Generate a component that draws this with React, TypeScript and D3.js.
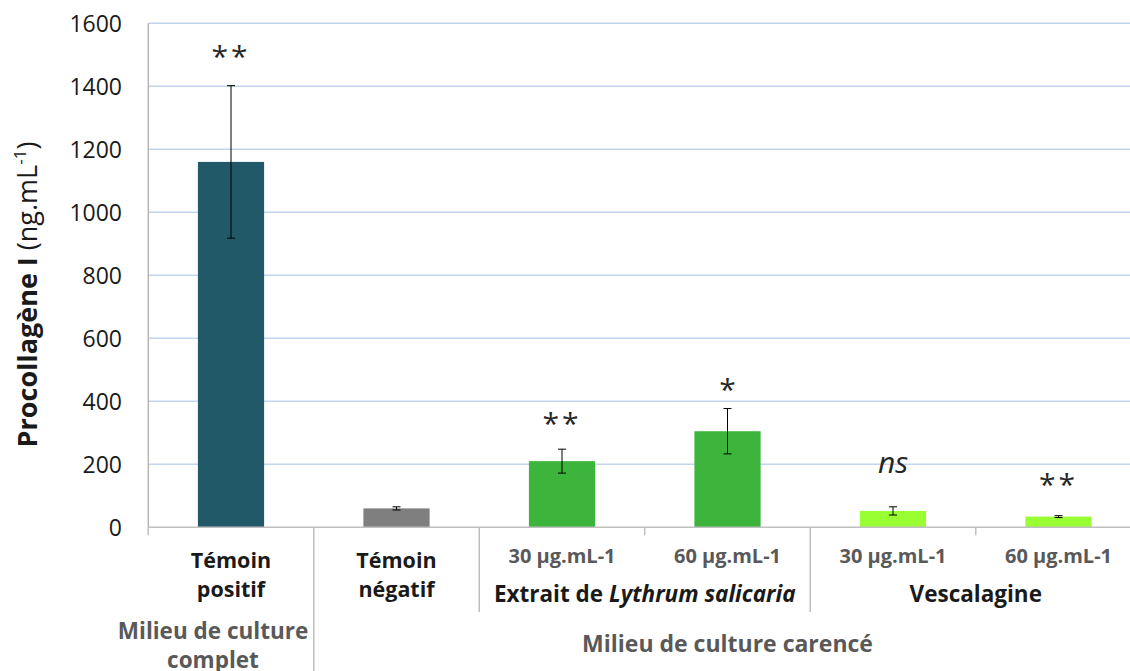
import React from "react";
import * as d3 from "d3";

const categories = ["tp", "tn", "ls30", "ls60", "v30", "v60"];
const values = [1160, 60, 210, 305, 52, 34];
const errors = [242, 5, 38, 72, 13, 3];
const sigLabels = ["**", "", "**", "*", "ns", "**"];
const sigAnchors = [1462, 0, 296, 403, 173, 101];
const yTicks = [0, 200, 400, 600, 800, 1000, 1200, 1400, 1600];
const catLines = [["Témoin", "positif"], ["Témoin", "négatif"], ["30 µg.mL-1"], ["60 µg.mL-1"], ["30 µg.mL-1"], ["60 µg.mL-1"]];
const groupNames = ["Extrait de ", "Vescalagine"];
const groupItalic = ["Lythrum salicaria", ""];
const groupRanges = [[2, 3], [4, 5]];
const mediumNames = [["Milieu de culture", "complet"], ["Milieu de culture carencé"]];
const mediumRanges = [[0, 0], [1, 5]];

const barColors = ["#215968", "#7f7f7f", "#3db53d", "#3db53d", "#99ff33", "#99ff33"];

const W = 1130, H = 671;
const left = 148.25, right = 1141.25, top = 23.3, bottom = 527.3;
const FONT = "'Open Sans', sans-serif";

export default function App() {
  const x = d3.scaleBand<string>().domain(categories).range([left, right]).paddingInner(0.6).paddingOuter(0.3);
  const y = d3.scaleLinear().domain([0, 1600]).range([bottom, top]);
  const step = x.step();
  const bw = x.bandwidth();
  const cx = (i: number) => (x(categories[i]) as number) + bw / 2;
  const boundary = (k: number) => left + k * step;

  return (
    <svg width={W} height={H} style={{ position: "absolute", left: 0, top: 0, background: "#fff" }} fontFamily={FONT}>
      {/* gridlines */}
      {yTicks.filter(t => t > 0).map(t => (
        <line key={t} x1={left} x2={right} y1={y(t)} y2={y(t)} stroke="#c3d4ee" strokeWidth={1.5} />
      ))}
      {/* y axis */}
      <line x1={left} x2={left} y1={top} y2={bottom} stroke="#a6a6a6" strokeWidth={1.2} />
      {yTicks.map(t => (
        <text key={t} x={122} y={y(t)} dy="0.36em" textAnchor="end" fontSize={23} fill="#1a1a1a">{t}</text>
      ))}
      {/* y title */}
      <text transform={`translate(37,294.5) rotate(-90)`} textAnchor="middle" fontSize={27} fill="#1a1a1a">
        <tspan fontWeight="bold">Procollagène I</tspan>
        <tspan> (ng.mL</tspan>
        <tspan fontSize={17} dy={-11}>-1</tspan>
        <tspan dy={11}>)</tspan>
      </text>
      {/* bars */}
      {values.map((v, i) => (
        <rect key={i} x={x(categories[i])} y={y(v)} width={bw} height={y(0) - y(v)} fill={barColors[i]} />
      ))}
      {/* error bars */}
      {values.map((v, i) => {
        const c = cx(i);
        const y1 = y(v + errors[i]);
        const y2 = y(v - errors[i]);
        return (
          <g key={i} stroke="#000" strokeWidth={1}>
            <line x1={c} x2={c} y1={y1} y2={y2} />
            <line x1={c - 4} x2={c + 4} y1={y1} y2={y1} />
            <line x1={c - 4} x2={c + 4} y1={y2} y2={y2} />
          </g>
        );
      })}
      {/* x axis */}
      <line x1={left} x2={right} y1={bottom} y2={bottom} stroke="#bfbfbf" strokeWidth={1.5} />
      {d3.range(0, 7).map(k => {
        let end = bottom + 8;
        if (k === 1) end = H;
        else if (k === 2 || k === 4) end = 612;
        return <line key={k} x1={boundary(k)} x2={boundary(k)} y1={bottom} y2={end} stroke="#bfbfbf" strokeWidth={1.5} />;
      })}
      {/* significance */}
      {sigLabels.map((s, i) => s ? (
        <text key={i} x={cx(i)} y={y(sigAnchors[i])} textAnchor="middle" fontSize={30}
          fontStyle={s === "ns" ? "italic" : "normal"} fill="#262626" letterSpacing={s === "**" ? 3 : 0}>{s}</text>
      ) : null)}
      {/* category labels */}
      {catLines.map((lines, i) => lines.length === 2 ? (
        <text key={i} x={cx(i)} textAnchor="middle" fontSize={21.5} fontWeight="bold" fill="#1a1a1a">
          {lines.map((l, j) => <tspan key={j} x={cx(i)} y={568 + j * 29}>{l}</tspan>)}
        </text>
      ) : (
        <text key={i} x={cx(i)} y={563} textAnchor="middle" fontSize={20} fontWeight="bold" fill="#595959">{lines[0]}</text>
      ))}
      {/* group labels */}
      {groupNames.map((g, i) => {
        const c = (boundary(groupRanges[i][0]) + boundary(groupRanges[i][1] + 1)) / 2;
        return (
          <text key={i} x={c} y={602} textAnchor="middle" fontSize={22.5} fontWeight="bold" fill="#1a1a1a">
            {g}{groupItalic[i] ? <tspan fontStyle="italic">{groupItalic[i]}</tspan> : null}
          </text>
        );
      })}
      {/* medium labels */}
      {mediumNames.map((lines, i) => {
        const two = lines.length === 2;
        const c = (boundary(mediumRanges[i][0]) + boundary(mediumRanges[i][1] + 1)) / 2 - (two ? 18 : 0);
        const y0 = two ? 639 : 652;
        return (
          <text key={i} textAnchor="middle" fontSize={two ? 22.5 : 23} fontWeight="bold" fill="#595959">
            {lines.map((l, j) => <tspan key={j} x={c} y={y0 + j * 29}>{l}</tspan>)}
          </text>
        );
      })}
    </svg>
  );
}
